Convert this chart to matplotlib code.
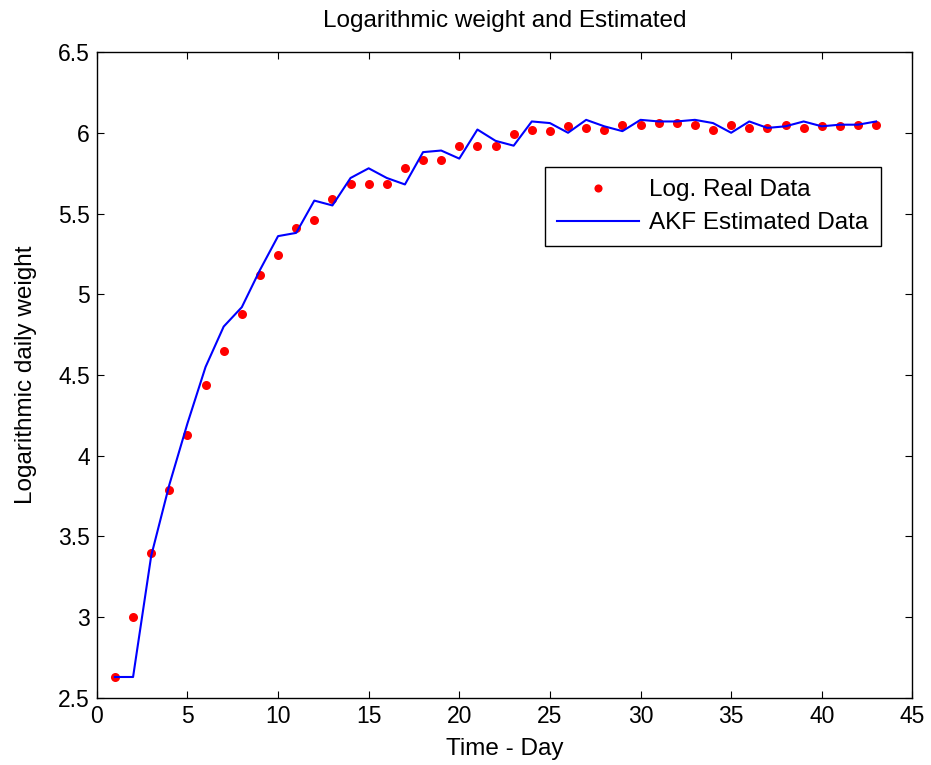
import matplotlib
matplotlib.use("Agg")
import matplotlib.pyplot as plt

plt.rcParams['font.family'] = ['Liberation Sans', 'DejaVu Sans']

# days
days = list(range(1, 44))

# logarithmic real data (red dots)
real_data = [2.63, 3.00, 3.40, 3.79, 4.13, 4.44, 4.65, 4.88, 5.12, 5.24,
             5.41, 5.46, 5.59, 5.68, 5.68, 5.68, 5.78, 5.83, 5.83, 5.92,
             5.92, 5.92, 5.99, 6.02, 6.01, 6.04, 6.03, 6.02, 6.05, 6.05,
             6.06, 6.06, 6.05, 6.02, 6.05, 6.03, 6.03, 6.05, 6.03, 6.04,
             6.04, 6.05, 6.05]

# AKF estimate (blue line)
akf_data = [2.63, 2.63, 3.38, 3.82, 4.20, 4.55, 4.80, 4.92, 5.15, 5.36,
            5.38, 5.58, 5.55, 5.72, 5.78, 5.72, 5.68, 5.88, 5.89, 5.84,
            6.02, 5.95, 5.92, 6.07, 6.06, 6.00, 6.08, 6.04, 6.01, 6.08,
            6.07, 6.07, 6.08, 6.06, 6.00, 6.07, 6.03, 6.04, 6.07, 6.04,
            6.05, 6.05, 6.07]

fig = plt.figure(figsize=(9.31, 7.65), dpi=100)
ax = fig.add_axes([0.104, 0.0876, 0.876, 0.8444])

ax.plot(days, real_data, 'o', color='red', markersize=6.5, markeredgewidth=0,
        label='Log. Real Data')
ax.plot(days, akf_data, '-', color='blue', linewidth=1.5,
        label='AKF Estimated Data')

ax.set_xlim(0, 45)
ax.set_ylim(2.5, 6.5)
ax.set_xticks(range(0, 46, 5))
ax.set_yticks([2.5, 3, 3.5, 4, 4.5, 5, 5.5, 6, 6.5])
ax.set_yticklabels(['2.5', '3', '3.5', '4', '4.5', '5', '5.5', '6', '6.5'])
ax.tick_params(direction='in', top=True, right=True, labelsize=16.5, length=5,
               pad=5)
for s in ax.spines.values():
    s.set_linewidth(1.0)

ax.set_title('Logarithmic weight and Estimated', fontsize=17.5, pad=18)
ax.set_xlabel('Time - Day', fontsize=17.5, labelpad=7)
ax.set_ylabel('Logarithmic daily weight', fontsize=17.5, labelpad=15)

leg = ax.legend(loc='upper right', bbox_to_anchor=(0.961, 0.822), fontsize=17.5,
                fancybox=False, edgecolor='black', framealpha=1, borderpad=0.5,
                handlelength=3.4, handletextpad=0.4, markerscale=0.9,
                labelspacing=0.45, borderaxespad=0)
leg.get_frame().set_linewidth(1.0)

fig.savefig('out.png', dpi=100)
